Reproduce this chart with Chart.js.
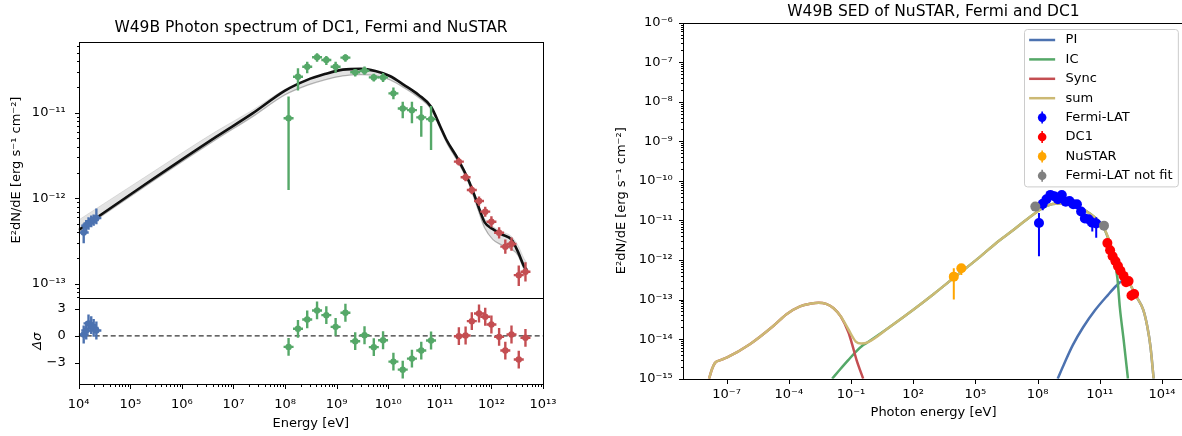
<!DOCTYPE html>
<html>
<head>
<meta charset="utf-8">
<title>W49B spectra</title>
<script src="https://cdn.jsdelivr.net/npm/chart.js@4.4.1/dist/chart.umd.min.js"></script>
<style>
  html, body { margin: 0; padding: 0; background: #ffffff; overflow: hidden; }
  body { position: relative; width: 1182px; height: 436px; }
  canvas { position: absolute; top: 0; }
  #spectrum { left: 0; }
  #sed { left: 560px; }
</style>
</head>
<body>
<canvas id="spectrum" width="622" height="436"></canvas>
<canvas id="sed" width="747" height="436"></canvas>
<script>
// ---------------- NuSTAR (X-ray) points ----------------
const nustarEnergy   = [1.25e4, 1.40e4, 1.55e4, 1.75e4, 1.95e4, 2.2e4];
const nustarFlux     = [4.0e-13, 4.8e-13, 5.1e-13, 5.4e-13, 5.6e-13, 5.9e-13];
const nustarLow      = [3.0e-13, 4.0e-13, 4.3e-13, 4.6e-13, 4.8e-13, 5.0e-13];
const nustarHigh     = [5.1e-13, 5.6e-13, 6.0e-13, 6.3e-13, 6.5e-13, 7.6e-13];
const nustarResidual = [0.15, 0.6, 1.4, 1.2, 0.9, 0.6];

// ---------------- Fermi-LAT points ----------------
const fermiEnergy   = [1.17e8, 1.78e8, 2.69e8, 4.17e8, 6.31e8, 9.55e8, 1.48e9, 2.29e9, 3.47e9, 5.25e9, 7.94e9, 1.26e10, 1.91e10, 2.88e10, 4.37e10, 6.76e10];
const fermiFlux     = [8.6e-12, 2.63e-11, 3.44e-11, 4.43e-11, 4.12e-11, 3.44e-11, 4.39e-11, 2.96e-11, 3.09e-11, 2.58e-11, 2.58e-11, 1.68e-11, 1.12e-11, 1.07e-11, 8.8e-12, 8.4e-12];
const fermiLow      = [1.25e-12, 1.81e-11, 2.88e-11, 3.94e-11, 3.60e-11, 2.93e-11, 3.94e-11, 2.64e-11, 2.77e-11, 2.31e-11, 2.28e-11, 1.43e-11, 8.6e-12, 7.5e-12, 5.25e-12, 3.66e-12];
const fermiHigh     = [1.54e-11, 3.30e-11, 3.94e-11, 4.93e-11, 4.58e-11, 3.94e-11, 4.82e-11, 3.22e-11, 3.45e-11, 2.85e-11, 2.91e-11, 1.97e-11, 1.34e-11, 1.34e-11, 1.20e-11, 1.20e-11];
const fermiResidual = [-1.24, 0.79, 1.84, 2.85, 2.32, 1.01, 2.59, -0.60, 0.07, -1.27, -0.49, -2.89, -3.79, -2.55, -1.65, -0.52];

// ---------------- DC1 (TeV) points ----------------
const dc1Energy   = [2.34e11, 3.16e11, 4.17e11, 5.75e11, 7.59e11, 1.0e12, 1.41e12, 1.86e12, 2.45e12, 3.39e12, 4.57e12];
const dc1Flux     = [2.68e-12, 1.76e-12, 1.25e-12, 9.3e-13, 7.0e-13, 5.34e-13, 3.97e-13, 2.73e-13, 2.93e-13, 1.27e-13, 1.39e-13];
const dc1Low      = [2.41e-12, 1.58e-12, 1.12e-12, 8.2e-13, 6.1e-13, 4.6e-13, 3.4e-13, 2.25e-13, 2.45e-13, 9.5e-14, 1.07e-13];
const dc1High     = [2.97e-12, 1.96e-12, 1.40e-12, 1.05e-12, 8.0e-13, 6.2e-13, 4.6e-13, 3.3e-13, 3.5e-13, 1.65e-13, 1.80e-13];
const dc1Residual = [-0.04, 0.04, 1.65, 2.51, 2.14, 1.27, -0.11, -1.65, 0.15, -2.66, -0.22];

// ---------------- fitted photon model (best fit and sample envelope) ----------------
const modelEnergy = [1.0e4, 1.86e5, 4.68e6, 2.34e7, 1.0e8, 2.63e8, 5.89e8, 1.32e9, 2.95e9, 5.62e9, 1.07e10, 2.04e10, 3.89e10, 6.76e10, 1.02e11, 1.35e11, 2.29e11, 3.55e11, 4.79e11, 6.03e11, 7.41e11, 1.07e12, 1.58e12, 2.45e12, 3.31e12, 4.27e12, 4.9e12];
const modelBest   = [4.27e-13, 1.43e-12, 5.25e-12, 9.8e-12, 1.81e-11, 2.40e-11, 2.82e-11, 3.18e-11, 3.24e-11, 3.06e-11, 2.68e-11, 2.10e-11, 1.61e-11, 1.17e-11, 6.9e-12, 4.8e-12, 2.82e-12, 1.66e-12, 1.05e-12, 7.1e-13, 5.25e-13, 4.37e-13, 3.80e-13, 3.31e-13, 2.34e-13, 1.62e-13, 1.45e-13];
const modelUpper  = [5.6e-13, 1.75e-12, 6.1e-12, 1.07e-11, 1.88e-11, 2.42e-11, 2.83e-11, 3.19e-11, 3.25e-11, 3.08e-11, 2.70e-11, 2.12e-11, 1.63e-11, 1.19e-11, 7.1e-12, 5.0e-12, 2.95e-12, 1.75e-12, 1.10e-12, 7.6e-13, 5.8e-13, 4.7e-13, 4.1e-13, 3.6e-13, 2.8e-13, 2.0e-13, 1.75e-13];
const modelLower  = [4.1e-13, 1.36e-12, 4.9e-12, 9.0e-12, 1.62e-11, 2.08e-11, 2.42e-11, 2.68e-11, 2.78e-11, 2.70e-11, 2.42e-11, 1.95e-11, 1.50e-11, 1.10e-11, 6.5e-12, 4.5e-12, 2.6e-12, 1.55e-12, 9.5e-13, 6.3e-13, 4.5e-13, 3.3e-13, 2.85e-13, 2.55e-13, 2.15e-13, 1.5e-13, 1.3e-13];

// ---------------- SED panel: extra points ----------------
const sedNustarEnergy = [9.1e3, 2.1e4];
const sedNustarFlux   = [3.8e-13, 6.2e-13];
const sedNustarLow    = [1.0e-13, 4.2e-13];
const sedNustarHigh   = [6.2e-13, 7.4e-13];
const notFitEnergy    = [7.8e7, 1.6e11];
const notFitFlux      = [2.24e-11, 7.4e-12];

// ---------------- SED panel: radiative components ----------------
const piEnergy = [9.33e8, 2.0e9, 5.01e9, 1.58e10, 5.89e10, 2.51e11, 6.31e11, 1.26e12, 2.24e12, 3.16e12, 6.31e12, 1.26e13, 2.0e13, 2.82e13, 3.98e13];
const piFlux   = [1.0e-15, 2.51e-15, 7.08e-15, 2.0e-14, 5.37e-14, 1.32e-13, 2.24e-13, 3.02e-13, 3.16e-13, 2.24e-13, 1.12e-13, 5.50e-14, 2.0e-14, 6.31e-15, 1.0e-15];
const icEnergy = [1.23e-2, 3.16e-2, 7.41e-2, 0.170, 0.389, 0.589, 7.08, 105, 1.02e3, 9.12e3, 1.66e5, 1.05e6, 6.76e6, 4.27e7, 2.75e8, 1.07e9, 7.59e9, 3.31e10, 1.48e11, 2.51e11, 4.47e11, 7.08e11, 9.33e11, 1.41e12, 2.29e12];
const icFlux   = [1.0e-15, 1.78e-15, 2.95e-15, 4.79e-15, 7.08e-15, 8.13e-15, 2.0e-14, 5.62e-14, 1.41e-13, 3.55e-13, 1.20e-12, 2.75e-12, 5.75e-12, 1.23e-11, 2.34e-11, 2.69e-11, 2.24e-11, 1.51e-11, 6.92e-12, 3.6e-12, 1.39e-12, 3.55e-13, 6.31e-14, 1.0e-14, 1.0e-15];
const syncEnergy = [1.41e-8, 2.0e-8, 2.75e-8, 5.0e-8, 1.0e-7, 1.32e-6, 1.78e-5, 7.76e-5, 3.47e-4, 1.20e-3, 2.75e-3, 6.31e-3, 1.45e-2, 3.24e-2, 7.41e-2, 0.112, 0.186, 0.282, 0.389];
const syncFlux   = [1.0e-15, 1.78e-15, 2.51e-15, 2.95e-15, 3.39e-15, 7.41e-15, 2.14e-14, 4.27e-14, 6.76e-14, 7.94e-14, 8.32e-14, 7.76e-14, 6.03e-14, 3.72e-14, 1.51e-14, 7.59e-15, 2.95e-15, 1.58e-15, 1.0e-15];
const sumEnergy = [1.41e-8, 2.0e-8, 2.75e-8, 5.0e-8, 1.0e-7, 1.32e-6, 1.78e-5, 7.76e-5, 3.47e-4, 1.20e-3, 2.75e-3, 6.31e-3, 1.45e-2, 3.24e-2, 7.41e-2, 0.170, 0.316, 0.589, 7.08, 105, 1.02e3, 9.12e3, 1.66e5, 1.05e6, 6.76e6, 4.27e7, 2.75e8, 1.07e9, 7.59e9, 3.31e10, 1.48e11, 2.51e11, 4.47e11, 7.94e11, 1.26e12, 2.24e12, 3.16e12, 6.31e12, 1.26e13, 2.0e13, 2.82e13, 3.98e13];
const sumFlux   = [1.0e-15, 1.78e-15, 2.51e-15, 2.95e-15, 3.39e-15, 7.41e-15, 2.14e-14, 4.27e-14, 6.76e-14, 7.94e-14, 8.32e-14, 7.76e-14, 6.03e-14, 3.72e-14, 1.78e-14, 8.71e-15, 7.76e-15, 8.13e-15, 2.0e-14, 5.62e-14, 1.41e-13, 3.55e-13, 1.20e-12, 2.75e-12, 5.75e-12, 1.23e-11, 2.34e-11, 2.69e-11, 2.24e-11, 1.51e-11, 6.92e-12, 3.80e-12, 1.58e-12, 5.01e-13, 3.31e-13, 3.24e-13, 2.24e-13, 1.12e-13, 5.50e-14, 2.0e-14, 6.31e-15, 1.0e-15];

// ---------------- tick labels ----------------
const spectrumXTicks = [1e4, 1e5, 1e6, 1e7, 1e8, 1e9, 1e10, 1e11, 1e12, 1e13];
const spectrumYTicks = [1e-13, 1e-12, 1e-11];
const residualTicks  = [-3, 0, 3];
const sedXTicks = [1e-7, 1e-4, 1e-1, 1e2, 1e5, 1e8, 1e11, 1e14];
const sedYTicks = [1e-15, 1e-14, 1e-13, 1e-12, 1e-11, 1e-10, 1e-9, 1e-8, 1e-7, 1e-6];

// ---------------- helpers ----------------
const FONT = '"DejaVu Sans", sans-serif';
Chart.defaults.font.family = FONT;
Chart.defaults.color = '#000';

const COLORS = { blue: '#4c72b0', green: '#55a868', red: '#c44e52', tan: '#ccb974' };

const SUP = {'-': '\u207B', '0': '\u2070', '1': '\u00B9', '2': '\u00B2', '3': '\u00B3', '4': '\u2074', '5': '\u2075', '6': '\u2076', '7': '\u2077', '8': '\u2078', '9': '\u2079'};
function decadeLabel(v) {
  const e = Math.round(Math.log10(v));
  return '10' + String(e).split('').map(c => SUP[c]).join('');
}
function majorLabel(v, i, ticks) {
  return ticks[i] && ticks[i].major ? decadeLabel(v) : '';
}
function logTicks(majors, min, max, withMinor) {
  const out = majors.map(v => ({ value: v, major: true }));
  if (withMinor) {
    const lo = Math.floor(Math.log10(min)), hi = Math.ceil(Math.log10(max));
    for (let d = lo; d < hi; d++) {
      for (let k = 2; k <= 9; k++) {
        const v = k * Math.pow(10, d);
        if (v >= min && v <= max) out.push({ value: v, major: false });
      }
    }
  }
  return out.sort((a, b) => a.value - b.value);
}
function points(xs, ys) { return xs.map((x, i) => ({ x: x, y: ys[i] })); }

// an empty right-hand axis that mirrors the left axis width, so the title centres over the plot
function spacerAxis(width) {
  return {
    type: 'linear', position: 'right', min: 0, max: 1, display: true,
    afterBuildTicks: s => { s.ticks = []; },
    afterFit: s => { s.width = width; },
    grid: { display: false, drawTicks: false }, border: { display: false },
    ticks: { display: false }
  };
}

// vertical (and optional horizontal) error bars, drawn under each dataset's markers
const errorBars = {
  id: 'errorBars',
  beforeDatasetDraw(chart, args) {
    const ds = chart.data.datasets[args.index];
    if (!ds.errLow) return;
    const meta = args.meta;
    const xs = chart.scales[meta.xAxisID], ys = chart.scales[meta.yAxisID];
    const ctx = chart.ctx, area = chart.chartArea;
    ctx.save();
    ctx.beginPath();
    ctx.rect(area.left, ys.top, area.right - area.left, ys.bottom - ys.top);
    ctx.clip();
    ctx.strokeStyle = ds.pointBackgroundColor;
    ctx.lineWidth = ds.errWidth || 2;
    ctx.lineCap = 'butt';
    ds.data.forEach((p, i) => {
      const px = xs.getPixelForValue(p.x);
      const py = ys.getPixelForValue(p.y);
      ctx.beginPath();
      ctx.moveTo(px, ys.getPixelForValue(ds.errLow[i]));
      ctx.lineTo(px, ys.getPixelForValue(ds.errHigh[i]));
      if (ds.capHalf) {
        ctx.moveTo(px - ds.capHalf, py);
        ctx.lineTo(px + ds.capHalf, py);
      }
      ctx.stroke();
    });
    ctx.restore();
  }
};

// axes boxes and outward tick marks
const axesFrame = {
  id: 'axesFrame',
  afterDraw(chart) {
    const ctx = chart.ctx, area = chart.chartArea;
    const scales = Object.values(chart.scales).filter(s => s.id !== 'spacer');
    ctx.save();
    ctx.strokeStyle = '#000';
    ctx.lineWidth = 1;
    scales.forEach(s => {
      if (s.isHorizontal()) return;
      const t = Math.round(s.top) + 0.5, b = Math.round(s.bottom) + 0.5;
      const l = Math.round(area.left) + 0.5, r = Math.round(area.right) + 0.5;
      ctx.strokeRect(l, t, r - l, b - t);
    });
    scales.forEach(s => {
      ctx.beginPath();
      s.ticks.forEach(tk => {
        const len = tk.major ? 4.5 : 2.5;
        const p = Math.round(s.getPixelForValue(tk.value)) + 0.5;
        if (s.isHorizontal()) {
          const y0 = Math.round(area.bottom) + 0.5;
          ctx.moveTo(p, y0); ctx.lineTo(p, y0 + len);
        } else {
          if (p < s.top - 1 || p > s.bottom + 1) return;
          const x0 = Math.round(area.left) + 0.5;
          ctx.moveTo(x0, p); ctx.lineTo(x0 - len, p);
        }
      });
      ctx.lineWidth = 1;
      ctx.stroke();
    });
    ctx.restore();
  }
};

// upper-right legend box with line and marker handles
const sedLegend = {
  id: 'sedLegend',
  afterDraw(chart) {
    const ctx = chart.ctx, area = chart.chartArea;
    const items = chart.data.datasets.filter(d => d.legendKind);
    const fs = 13;
    ctx.save();
    ctx.font = fs + 'px ' + FONT;
    const textW = Math.max(...items.map(d => ctx.measureText(d.label).width));
    const pad = 0.4 * fs, handle = 2 * fs, gap = 0.8 * fs, step = 19.4, edge = 10.8;
    const boxW = pad + handle + gap + textW + pad;
    const boxH = 2 * edge + (items.length - 1) * step;
    const right = area.right - 0.5 * fs, top = area.top + 0.5 * fs;
    const left = right - boxW;
    ctx.beginPath();
    ctx.roundRect(Math.round(left) + 0.5, Math.round(top) + 0.5, boxW, boxH, 3);
    ctx.fillStyle = 'rgba(255,255,255,0.8)';
    ctx.fill();
    ctx.strokeStyle = '#cccccc';
    ctx.lineWidth = 1;
    ctx.stroke();
    items.forEach((d, i) => {
      const cy = top + edge + i * step;
      const hx0 = left + pad, hx1 = hx0 + handle, cx = (hx0 + hx1) / 2;
      if (d.legendKind === 'line') {
        ctx.beginPath();
        ctx.moveTo(hx0, cy); ctx.lineTo(hx1, cy);
        ctx.strokeStyle = d.borderColor;
        ctx.lineWidth = d.borderWidth;
        ctx.stroke();
      } else {
        ctx.beginPath();
        ctx.moveTo(cx, cy - 6); ctx.lineTo(cx, cy + 6);
        ctx.strokeStyle = d.pointBackgroundColor;
        ctx.lineWidth = 1.6;
        ctx.stroke();
        ctx.beginPath();
        ctx.arc(cx, cy, 4.3, 0, Math.PI * 2);
        ctx.fillStyle = d.pointBackgroundColor;
        ctx.fill();
      }
      ctx.fillStyle = '#000';
      ctx.textBaseline = 'middle';
      ctx.textAlign = 'left';
      ctx.fillText(d.label, hx1 + gap, cy);
    });
    ctx.restore();
  }
};

const tickFont = { family: FONT, size: 13 };
const labelFont = { family: FONT, size: 13 };
const titleFont = { family: FONT, size: 15.5, weight: 'normal' };

function lineSet(label, xs, ys, color, width, order, extra) {
  return Object.assign({
    label: label, data: points(xs, ys), showLine: true, borderColor: color, borderWidth: width,
    pointRadius: 0, pointHoverRadius: 0, cubicInterpolationMode: 'monotone', fill: false, clip: 0, order: order
  }, extra || {});
}
function markerSet(label, xs, ys, lo, hi, color, radius, order, extra) {
  return Object.assign({
    label: label, data: points(xs, ys), showLine: false, pointRadius: radius, pointHoverRadius: radius,
    pointBackgroundColor: color, pointBorderWidth: 0, borderColor: color,
    errLow: lo, errHigh: hi, order: order
  }, extra || {});
}

// ---------------- photon spectrum with residuals ----------------
const X_MIN = 1e4, X_MAX = 1e13;
const Y_MIN = 6.8e-14, Y_MAX = 6.75e-11;
const R_MIN = -5.4, R_MAX = 4.2;
const resLow = r => r.map(v => v - 1);
const resHigh = r => r.map(v => v + 1);
const specMarker = { errWidth: 2.4, capHalf: 5, yAxisID: 'y' };
const resMarker = { errWidth: 2.4, capHalf: 5, yAxisID: 'yRes' };

new Chart(document.getElementById('spectrum'), {
  type: 'scatter',
  data: {
    datasets: [
      lineSet('sample envelope', modelEnergy, modelUpper, 'rgba(0,0,0,0.10)', 1, 12,
        { fill: '+1', backgroundColor: 'rgba(0,0,0,0.11)', yAxisID: 'y' }),
      lineSet('sample envelope low', modelEnergy, modelLower, 'rgba(0,0,0,0.28)', 1.3, 11, { yAxisID: 'y' }),
      lineSet('best fit', modelEnergy, modelBest, '#111111', 2.6, 10, { yAxisID: 'y' }),
      markerSet('NuSTAR', nustarEnergy, nustarFlux, nustarLow, nustarHigh, COLORS.blue, 3.2, 3, specMarker),
      markerSet('Fermi', fermiEnergy, fermiFlux, fermiLow, fermiHigh, COLORS.green, 3.2, 2, specMarker),
      markerSet('DC1', dc1Energy, dc1Flux, dc1Low, dc1High, COLORS.red, 3.2, 1, specMarker),
      lineSet('zero', [X_MIN, X_MAX], [0, 0], '#333333', 1.2, 9,
        { yAxisID: 'yRes', borderDash: [5, 3], cubicInterpolationMode: 'default' }),
      markerSet('NuSTAR residual', nustarEnergy, nustarResidual, resLow(nustarResidual), resHigh(nustarResidual), COLORS.blue, 3.2, 3, resMarker),
      markerSet('Fermi residual', fermiEnergy, fermiResidual, resLow(fermiResidual), resHigh(fermiResidual), COLORS.green, 3.2, 2, resMarker),
      markerSet('DC1 residual', dc1Energy, dc1Residual, resLow(dc1Residual), resHigh(dc1Residual), COLORS.red, 3.2, 1, resMarker)
    ]
  },
  options: {
    responsive: false, animation: false, events: [],
    layout: { padding: { left: 0, right: 0, top: 0, bottom: 0 } },
    plugins: {
      legend: { display: false }, tooltip: { enabled: false },
      title: { display: true, text: 'W49B Photon spectrum of DC1, Fermi and NuSTAR', font: titleFont,
        color: '#000', padding: { top: 19, bottom: 4 } }
    },
    scales: {
      x: {
        type: 'logarithmic', min: X_MIN, max: X_MAX,
        afterBuildTicks: s => { s.ticks = logTicks(spectrumXTicks, X_MIN, X_MAX, true); },
        afterFit: s => { s.height = 52; },
        grid: { display: false, drawTicks: false }, border: { display: false },
        ticks: { autoSkip: false, maxRotation: 0, padding: 13, font: tickFont, color: '#000', callback: majorLabel },
        title: { display: true, text: 'Energy [eV]', font: labelFont, color: '#000', padding: { top: 0, bottom: 5 } }
      },
      // stacked left axes are laid out bottom-up in reverse declaration order
      yRes: {
        type: 'linear', min: R_MIN, max: R_MAX, position: 'left', stack: 'spectrum', stackWeight: 1,
        afterBuildTicks: s => { s.ticks = residualTicks.map(v => ({ value: v, major: true })); },
        afterFit: s => { s.width = 78.7; },
        grid: { display: false, drawTicks: false }, border: { display: false },
        ticks: { autoSkip: false, padding: 13, font: tickFont, color: '#000',
          callback: v => (v < 0 ? '\u2212' + Math.abs(v) : String(v)) },
        title: { display: true, text: '\u0394\u03C3', font: { family: FONT, size: 13, style: 'italic' }, color: '#000', padding: { top: 30, bottom: 0 } }
      },
      y: {
        type: 'logarithmic', min: Y_MIN, max: Y_MAX, position: 'left', stack: 'spectrum', stackWeight: 3,
        afterBuildTicks: s => { s.ticks = logTicks(spectrumYTicks, Y_MIN, Y_MAX, true); },
        afterFit: s => { s.width = 78.7; },
        grid: { display: false, drawTicks: false }, border: { display: false },
        ticks: { autoSkip: false, padding: 13, font: tickFont, color: '#000', callback: majorLabel },
        title: { display: true, text: 'E\u00B2dN/dE [erg s\u207B\u00B9 cm\u207B\u00B2]', font: labelFont, color: '#000', padding: { top: 9, bottom: 0 } }
      },
      spacer: spacerAxis(79)
    }
  },
  plugins: [errorBars, axesFrame]
});

// ---------------- broadband SED with radiative components ----------------
const SX_MIN = 7.6e-10, SX_MAX = 1.2e15;
const SY_MIN = 1e-15, SY_MAX = 1e-6;
const sedMarker = { errWidth: 2, legendKind: 'marker' };

new Chart(document.getElementById('sed'), {
  type: 'scatter',
  data: {
    datasets: [
      lineSet('PI', piEnergy, piFlux, COLORS.blue, 2.5, 8, { legendKind: 'line' }),
      lineSet('IC', icEnergy, icFlux, COLORS.green, 2.5, 7, { legendKind: 'line' }),
      lineSet('Sync', syncEnergy, syncFlux, COLORS.red, 2.5, 6, { legendKind: 'line' }),
      lineSet('sum', sumEnergy, sumFlux, COLORS.tan, 2.5, 5, { legendKind: 'line' }),
      markerSet('Fermi-LAT', fermiEnergy, fermiFlux, fermiLow, fermiHigh, '#0000ff', 5, 4, sedMarker),
      markerSet('DC1', dc1Energy, dc1Flux, dc1Low, dc1High, '#ff0000', 5, 3, sedMarker),
      markerSet('NuSTAR', sedNustarEnergy, sedNustarFlux, sedNustarLow, sedNustarHigh, '#ffa500', 5, 2, sedMarker),
      markerSet('Fermi-LAT not fit', notFitEnergy, notFitFlux, notFitFlux, notFitFlux, '#808080', 5, 1, sedMarker)
    ]
  },
  options: {
    responsive: false, animation: false, events: [],
    layout: { padding: { left: 0, right: 0, top: 0, bottom: 0 } },
    plugins: {
      legend: { display: false }, tooltip: { enabled: false },
      title: { display: true, text: 'W49B SED of NuSTAR, Fermi and DC1', font: titleFont,
        color: '#000', padding: { top: 3, bottom: 1.1 } }
    },
    scales: {
      x: {
        type: 'logarithmic', min: SX_MIN, max: SX_MAX,
        afterBuildTicks: s => { s.ticks = logTicks(sedXTicks, SX_MIN, SX_MAX, false); },
        afterFit: s => { s.height = 57.3; },
        grid: { display: false, drawTicks: false }, border: { display: false },
        ticks: { autoSkip: false, maxRotation: 0, padding: 8.5, font: tickFont, color: '#000', callback: majorLabel },
        title: { display: true, text: 'Photon energy [eV]', font: labelFont, color: '#000', padding: { top: 0, bottom: 16 } }
      },
      y: {
        type: 'logarithmic', min: SY_MIN, max: SY_MAX, position: 'left',
        afterBuildTicks: s => { s.ticks = logTicks(sedYTicks, SY_MIN, SY_MAX, true); },
        afterFit: s => { s.width = 122.7; },
        grid: { display: false, drawTicks: false }, border: { display: false },
        ticks: { autoSkip: false, padding: 10, font: tickFont, color: '#000', callback: majorLabel },
        title: { display: true, text: 'E\u00B2dN/dE [erg s\u207B\u00B9 cm\u207B\u00B2]', font: labelFont, color: '#000', padding: { top: 54, bottom: 0 } }
      },
      spacer: spacerAxis(122.7)
    }
  },
  plugins: [errorBars, axesFrame, sedLegend]
});
</script>
</body>
</html>
